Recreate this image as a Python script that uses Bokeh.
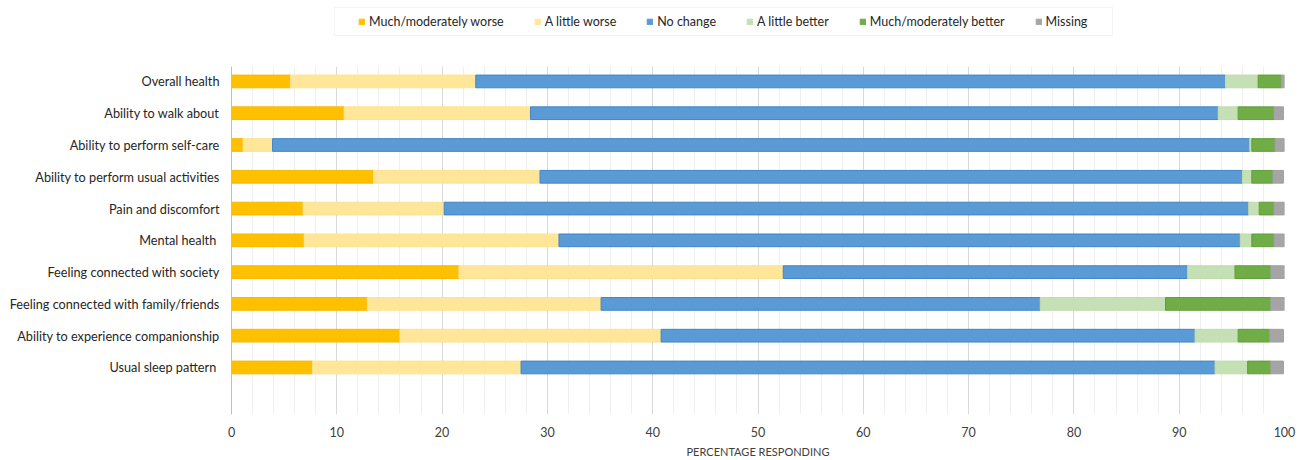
from bokeh.plotting import figure
from bokeh.layouts import column
from bokeh.models import ColumnDataSource, Range1d, FixedTicker, Legend, LegendItem, BoxAnnotation
from bokeh.embed import file_html
from bokeh.resources import INLINE

categories = [
    "Overall health",
    "Ability to walk about",
    "Ability to perform self-care",
    "Ability to perform usual activities",
    "Pain and discomfort",
    "Mental health ",
    "Feeling connected with society",
    "Feeling connected with family/friends",
    "Ability to experience companionship",
    "Usual sleep pattern ",
]
series_names = ["Much/moderately worse", "A little worse", "No change",
                "A little better", "Much/moderately better", "Missing"]
much_worse = [5.6, 10.7, 1.1, 13.5, 6.8, 6.9, 21.6, 12.9, 16.0, 7.7]
little_worse = [17.6, 17.7, 2.8, 15.8, 13.4, 24.2, 30.8, 22.2, 24.8, 19.8]
no_change = [71.2, 65.3, 92.8, 66.7, 76.4, 64.7, 38.4, 41.7, 50.7, 65.9]
little_better = [3.1, 1.9, 0.2, 0.9, 1.0, 1.1, 4.5, 11.9, 4.1, 3.1]
much_better = [2.2, 3.4, 2.2, 2.0, 1.4, 2.1, 3.4, 10.0, 3.0, 2.2]
missing = [0.3, 0.9, 0.9, 1.0, 1.0, 1.0, 1.3, 1.3, 1.3, 1.2]
x_ticks = [0, 10, 20, 30, 40, 50, 60, 70, 80, 90, 100]

fills = ["#FFC000", "#FFE699", "#5B9BD5", "#C5E0B4", "#70AD47", "#A5A5A5"]
lines = ["#F7B900", "#FFE28F", "#3F85C9", "#BFDCAD", "#5F9E3A", "#A0A0A0"]

keys = ["s0", "s1", "s2", "s3", "s4", "s5"]
data = {"y": list(range(len(categories)))}
for k, vals in zip(keys, [much_worse, little_worse, no_change, little_better, much_better, missing]):
    data[k] = vals
source = ColumnDataSource(data)

FONT = "Lato"

# ---------- legend strip (frame aligned with the chart frame: 1053 x 40 px) ----------
lg = figure(width=1308, height=40, output_backend="svg", toolbar_location=None,
            x_range=Range1d(0, 1053), y_range=Range1d(0, 40),
            min_border_left=231, min_border_right=24, min_border_top=0, min_border_bottom=0)
lg.axis.visible = False
lg.grid.visible = False
lg.outline_line_color = None
dummy = []
for fc in fills:
    # legend-key carriers, placed far outside the canvas
    dummy.append(lg.hbar(y=[-5000], left=[-9000], right=[-8000], height=1,
                         fill_color=fc, line_color=fc))

lg.add_layout(BoxAnnotation(left=103, right=881, bottom=5, top=33,
                            fill_color=None, line_color="#D9D9D9", line_width=1))

legend = Legend(items=[LegendItem(label=n, renderers=[r]) for n, r in zip(series_names, dummy)],
                orientation="horizontal", location=(127, 11))
legend.glyph_width = 7
legend.glyph_height = 7
legend.label_standoff = 4
legend.spacing = 30
legend.padding = 6
legend.margin = 0
legend.label_text_font = FONT
legend.label_text_font_size = "12.5px"
legend.label_text_color = "#262626"
legend.border_line_color = None
legend.background_fill_alpha = 0
lg.add_layout(legend, "center")

# ---------- main chart ----------
p = figure(width=1308, height=420, output_backend="svg", toolbar_location=None,
           x_range=Range1d(0, 100), y_range=Range1d(10.48, -0.47),
           min_border_left=231, min_border_right=24, min_border_top=26,
           min_border_bottom=45)
p.outline_line_color = None

renderers = p.hbar_stack(keys, y="y", height=0.4, source=source,
                         fill_color=fills, line_color=lines, line_width=1)

p.ygrid.grid_line_color = None
p.xgrid.ticker = FixedTicker(ticks=x_ticks, minor_ticks=list(range(0, 101, 2)))
p.xgrid.grid_line_color = "#D9D9D9"
p.xgrid.grid_line_width = 1
p.xgrid.minor_grid_line_color = "#EFEFEF"
p.xgrid.minor_grid_line_width = 1

p.xaxis.ticker = FixedTicker(ticks=x_ticks)
p.xaxis.axis_line_color = None
p.xaxis.major_tick_line_color = None
p.xaxis.minor_tick_line_color = None
p.xaxis.major_tick_out = 0
p.xaxis.major_label_standoff = 12
p.xaxis.major_label_text_font = FONT
p.xaxis.major_label_text_font_size = "12.5px"
p.xaxis.major_label_text_color = "#404040"
p.xaxis.axis_label = "PERCENTAGE RESPONDING"
p.xaxis.axis_label_text_font = FONT
p.xaxis.axis_label_text_font_size = "11px"
p.xaxis.axis_label_text_font_style = "normal"
p.xaxis.axis_label_text_color = "#404040"
p.xaxis.axis_label_standoff = 5

p.yaxis.ticker = FixedTicker(ticks=list(range(len(categories))))
p.yaxis.major_label_overrides = {i: c for i, c in enumerate(categories)}
p.yaxis.axis_line_color = "#BFBFBF"
p.yaxis.axis_line_width = 1
p.yaxis.major_tick_line_color = None
p.yaxis.minor_tick_line_color = None
p.yaxis.major_tick_out = 0
p.yaxis.major_label_standoff = 12
p.yaxis.major_label_text_font = FONT
p.yaxis.major_label_text_font_size = "12.7px"
p.yaxis.major_label_text_color = "#262626"

layout = column(lg, p, spacing=0)
open("out.html", "w").write(file_html(layout, INLINE))
